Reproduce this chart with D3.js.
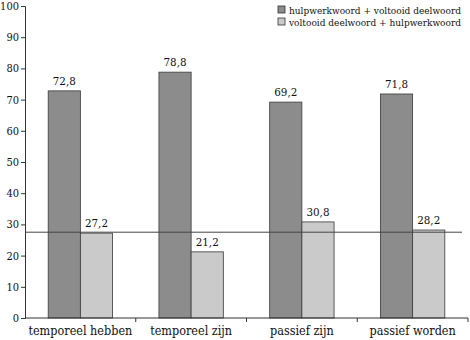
<!DOCTYPE html>
<html><head><meta charset="utf-8">
<script src="https://cdn.jsdelivr.net/npm/d3@7"></script>
<style>body{margin:0;background:#fff}svg{display:block}svg text{font-family:"DejaVu Serif Condensed","DejaVu Serif",serif;font-stretch:condensed}</style>
</head><body>
<script>
const categories = ["temporeel hebben", "temporeel zijn", "passief zijn", "passief worden"];
const seriesNames = ["hulpwerkwoord + voltooid deelwoord", "voltooid deelwoord + hulpwerkwoord"];
const seriesA = [72.8, 78.8, 69.2, 71.8];
const seriesB = [27.2, 21.2, 30.8, 28.2];
const refValue = 27.5;
const yTicks = [0, 10, 20, 30, 40, 50, 60, 70, 80, 90, 100];

const W = 470, H = 340;
const m = {left: 25, right: 2, top: 6, bottom: 22};
const svg = d3.select("body").append("svg").attr("width", W).attr("height", H);

const x = d3.scaleBand().domain(categories).range([m.left, W - m.right]).paddingInner(0).paddingOuter(0);
const xs = d3.scaleBand().domain([0, 1]).range([0, x.bandwidth()]).paddingInner(0).paddingOuter(0.72);
const y = d3.scaleLinear().domain([0, 100]).range([H - m.bottom, m.top]);

const colors = ["#8c8c8c", "#cacaca"];
const data = categories.map((c, i) => ({c, v: [seriesA[i], seriesB[i]]}));

const g = svg.append("g");
data.forEach(d => {
  d.v.forEach((v, k) => {
    g.append("rect")
      .attr("x", x(d.c) + xs(k))
      .attr("y", y(v))
      .attr("width", xs.bandwidth())
      .attr("height", y(0) - y(v))
      .attr("fill", colors[k])
      .attr("stroke", "#3a3a3a").attr("stroke-width", 0.8);
    g.append("text")
      .attr("x", x(d.c) + xs(k) + xs.bandwidth() / 2)
      .attr("y", y(v) - 6)
      .attr("text-anchor", "middle")
      .attr("font-size", 11.5).attr("fill", "#111")
      .text(String(v.toFixed(1)).replace(".", ","));
  });
});

// reference line
svg.append("line")
  .attr("x1", m.left).attr("x2", W - 8)
  .attr("y1", y(refValue)).attr("y2", y(refValue))
  .attr("stroke", "#444").attr("stroke-width", 1);

// y axis
const ya = svg.append("g").attr("transform", `translate(${m.left},0)`)
  .call(d3.axisLeft(y).tickValues(yTicks).tickSize(4).tickPadding(2));
ya.attr("font-family", null);
ya.selectAll("text").attr("font-size", 11).attr("fill", "#111");
ya.selectAll("line,path").attr("stroke", "#333");

// x axis
const xa = svg.append("g").attr("transform", `translate(0,${y(0)})`);
xa.append("line").attr("x1", m.left).attr("x2", W - m.right).attr("stroke", "#333");
categories.forEach((c, i) => {
  const bx = x(c) + x.bandwidth();
  xa.append("line").attr("x1", bx).attr("x2", bx).attr("y1", 0).attr("y2", 4).attr("stroke", "#333");
  xa.append("text").attr("x", x(c) + x.bandwidth() / 2).attr("y", 17)
    .attr("text-anchor", "middle").attr("font-size", 12.5).attr("fill", "#111")
    .text(c);
});

// legend
const lg = svg.append("g").attr("transform", "translate(278,5)");
seriesNames.forEach((s, i) => {
  lg.append("rect").attr("x", 0).attr("y", i * 12 + 1).attr("width", 7).attr("height", 7)
    .attr("fill", colors[i]).attr("stroke", "#333").attr("stroke-width", 0.8);
  lg.append("text").attr("x", 11).attr("y", i * 12 + 9)
    .attr("font-size", 10).attr("fill", "#111").text(s);
});
</script>
</body></html>
